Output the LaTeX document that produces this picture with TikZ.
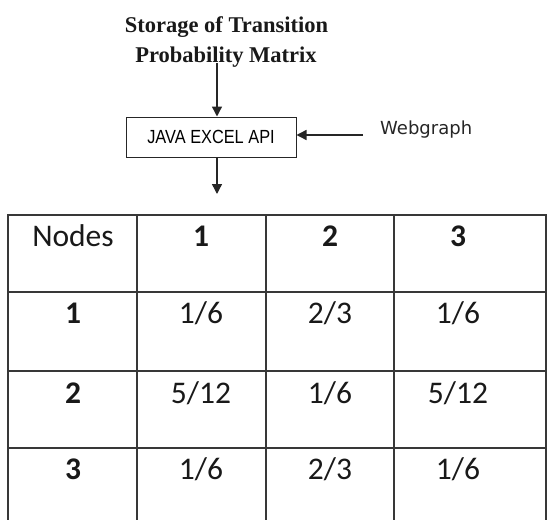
\documentclass[tikz,border=0pt]{standalone}
\usepackage{fontspec}
\usepackage{graphicx}
\usetikzlibrary{arrows.meta}
\newfontfamily\carl{Carlito}
\newfontfamily\tnr{Liberation Serif}
\newfontfamily\lsans{Liberation Sans}
\newfontfamily\dvs{DejaVu Sans}
\begin{document}
\begin{tikzpicture}[x=1pt,y=-1pt,
  grid/.style={draw=black!78, line width=1.5pt},
  conn/.style={draw=black!85, line width=1.4pt, -{Triangle[width=10pt,length=10pt]}},
  cell/.style={anchor=base, inner sep=0pt, font=\fontsize{31.5}{31.5}\carl, text=black!90},
  hcell/.style={cell, font=\fontsize{31.5}{31.5}\carl\bfseries},
  ttl/.style={anchor=base, inner sep=0pt, font=\fontsize{22.5}{22.5}\tnr\bfseries, text=black!90}]
\useasboundingbox (0,0) rectangle (547,520);
% title
\node[ttl] (title1) at (226.5,32) {Storage of Transition};
\node[ttl] (title2) at (226,62) {Probability Matrix};
% box
\node[draw=black!85, line width=1pt, minimum width=170pt, minimum height=40pt, inner sep=0pt] (api) at (211,137)
  {\scalebox{0.86}[1]{\fontsize{19}{19}\lsans JAVA EXCEL API}};
\node[anchor=west, inner sep=0pt, font=\fontsize{18}{18}\dvs, text=black!85] (web) at (380,130) {Webgraph};
\coordinate (t1) at (217,63);
\coordinate (w1) at (363,135);
\coordinate (d1) at (217,194);
\draw[conn] (t1) -- (t1 |- api.north);
\draw[conn] (w1) -- (w1 -| api.east);
\draw[conn] (api.south -| d1) -- (d1);
% table
\draw[grid] (8,215) -- (546,215);
\draw[grid] (8,292) -- (546,292);
\draw[grid] (8,371) -- (546,371);
\draw[grid] (8,448) -- (546,448);
\foreach \x in {8,137,266,394,546} \draw[grid] (\x,214.25) -- (\x,520);
% header
\node[cell] (h0) at (73,246) {Nodes};
\node[hcell] (h1) at (201,246) {1};
\node[hcell] (h2) at (330,246) {2};
\node[hcell] (h3) at (458,246) {3};
% row 1
\node[hcell] (r1) at (73,323) {1};
\node[cell] (c11) at (201,323) {1/6};
\node[cell] (c12) at (330,323) {2/3};
\node[cell] (c13) at (458,323) {1/6};
% row 2
\node[hcell] (r2) at (73,403) {2};
\node[cell] (c21) at (201,403) {5/12};
\node[cell] (c22) at (330,403) {1/6};
\node[cell] (c23) at (458,403) {5/12};
% row 3
\node[hcell] (r3) at (73,479) {3};
\node[cell] (c31) at (201,479) {1/6};
\node[cell] (c32) at (330,479) {2/3};
\node[cell] (c33) at (458,479) {1/6};
\end{tikzpicture}
\end{document}
